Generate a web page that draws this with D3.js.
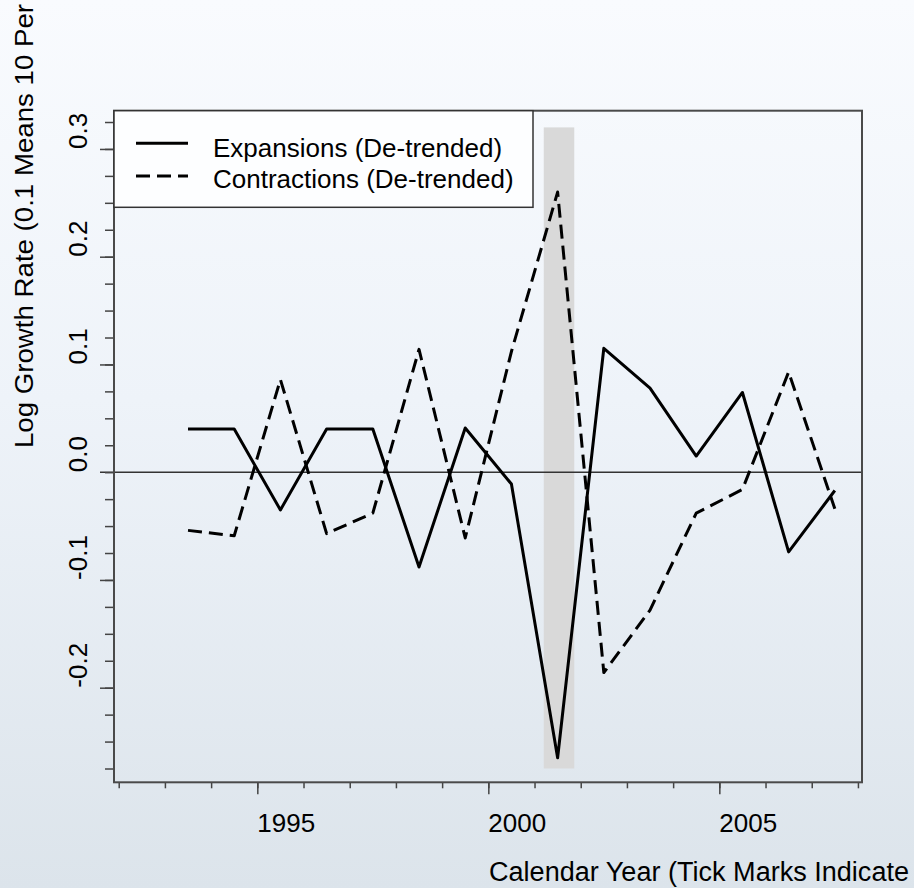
<!DOCTYPE html>
<html>
<head>
<meta charset="utf-8">
<script src="https://cdn.jsdelivr.net/npm/d3@7"></script>
<style>
  html, body { margin: 0; padding: 0; }
  body { width: 914px; height: 888px; overflow: hidden; }
  text { font-family: "Liberation Sans", Arial, sans-serif; fill: #000; }
</style>
</head>
<body>
<svg id="chart" width="914" height="888"></svg>
<script>
// Observation dates (mid-year) and the two de-trended growth series
const years = [1993.5, 1994.5, 1995.5, 1996.5, 1997.5, 1998.5, 1999.5, 2000.5,
               2001.5, 2002.5, 2003.5, 2004.5, 2005.5, 2006.5, 2007.5];
const expansions = [0.040, 0.040, -0.035, 0.040, 0.040, -0.088, 0.041, -0.011,
                    -0.265, 0.115, 0.078, 0.015, 0.074, -0.074, -0.017];
const contractions = [-0.054, -0.059, 0.086, -0.057, -0.038, 0.114, -0.061, 0.112,
                      0.260, -0.186, -0.128, -0.038, -0.016, 0.093, -0.034];

// Recession band (start, end) and its vertical extent
const recession = [2001.2, 2001.86];
const recessionRange = [-0.275, 0.32];

// Tick values and labels
const xMajorTicks = [1995, 2000, 2005];
const xMinorTicks = d3.range(1992, 2009, 1);
const yMajorTicks = [-0.2, -0.1, 0.0, 0.1, 0.2, 0.3];
const yMinorTicks = d3.range(-0.275, 0.3251, 0.025);
const yTickLabels = ["-0.2", "-0.1", "0.0", "0.1", "0.2", "0.3"];

const legendLabels = ["Expansions (De-trended)", "Contractions (De-trended)"];
const yTitle = "Log Growth Rate (0.1 Means 10 Per";
const xTitle = "Calendar Year (Tick Marks Indicate";

const svg = d3.select("#chart");

// Soft vertical background wash
const defs = svg.append("defs");
const grad = defs.append("linearGradient")
  .attr("id", "bg").attr("x1", 0).attr("y1", 0).attr("x2", 0).attr("y2", 1);
grad.append("stop").attr("offset", "0%").attr("stop-color", "#f9fbfe");
grad.append("stop").attr("offset", "45%").attr("stop-color", "#eef3f9");
grad.append("stop").attr("offset", "100%").attr("stop-color", "#dce4eb");
svg.append("rect").attr("width", 914).attr("height", 888).attr("fill", "url(#bg)");

const plot = { left: 114, right: 862, top: 110.7, bottom: 782.3 };

const x = d3.scaleLinear().domain([1991.898, 2008.088]).range([plot.left, plot.right]);
const y = d3.scaleLinear().domain([-0.2878, 0.3355]).range([plot.bottom, plot.top]);

// Recession shading
svg.append("rect")
  .attr("x", x(recession[0]))
  .attr("width", x(recession[1]) - x(recession[0]))
  .attr("y", y(recessionRange[1]))
  .attr("height", y(recessionRange[0]) - y(recessionRange[1]))
  .attr("fill", "#d9d9d9");

// Zero reference line (extends left as the 0.0 tick)
svg.append("line")
  .attr("x1", plot.left - 14).attr("x2", plot.right)
  .attr("y1", y(0)).attr("y2", y(0))
  .attr("stroke", "#333").attr("stroke-width", 1.5);

// Series lines
const line = (vals) => d3.line()
  .x((d, i) => x(years[i]))
  .y(d => y(d))(vals);

svg.append("path")
  .attr("d", line(expansions))
  .attr("fill", "none").attr("stroke", "#000")
  .attr("stroke-width", 3).attr("stroke-linejoin", "round");

svg.append("path")
  .attr("d", line(contractions))
  .attr("fill", "none").attr("stroke", "#000")
  .attr("stroke-width", 3).attr("stroke-linejoin", "round")
  .attr("stroke-dasharray", "14,7");

// Y axis ticks
const yMinorAxis = d3.axisLeft(y).tickValues(yMinorTicks).tickSize(9).tickFormat("");
const yMajorAxis = d3.axisLeft(y).tickValues(yMajorTicks.filter(v => v !== 0))
  .tickSize(14).tickFormat("");
[yMinorAxis, yMajorAxis].forEach(ax => {
  const g = svg.append("g").attr("transform", `translate(${plot.left},0)`).call(ax);
  g.select(".domain").remove();
  g.selectAll("line").attr("stroke", "#444").attr("stroke-width", 1.5);
});

// Y tick labels, rotated and starting at the tick
svg.append("g").selectAll("text")
  .data(yMajorTicks)
  .join("text")
  .attr("transform", d => `translate(87,${y(d)}) rotate(-90)`)
  .attr("text-anchor", "start")
  .attr("font-size", 26)
  .text((d, i) => yTickLabels[i]);

// X axis ticks
const xMinorAxis = d3.axisBottom(x).tickValues(xMinorTicks).tickSize(6).tickFormat("");
const xMajorAxis = d3.axisBottom(x).tickValues(xMajorTicks).tickSize(12).tickFormat("");
[xMinorAxis, xMajorAxis].forEach(ax => {
  const g = svg.append("g").attr("transform", `translate(0,${plot.bottom})`).call(ax);
  g.select(".domain").remove();
  g.selectAll("line").attr("stroke", "#444").attr("stroke-width", 1.5);
});

// X tick labels, starting at the tick
svg.append("g").selectAll("text")
  .data(xMajorTicks)
  .join("text")
  .attr("x", d => x(d))
  .attr("y", 832)
  .attr("text-anchor", "start")
  .attr("font-size", 26)
  .text(d => d);

// Plot frame
svg.append("rect")
  .attr("x", plot.left).attr("y", plot.top)
  .attr("width", plot.right - plot.left).attr("height", plot.bottom - plot.top)
  .attr("fill", "none").attr("stroke", "#4a4a4a").attr("stroke-width", 2);

// Legend
const legend = svg.append("g");
legend.append("rect")
  .attr("x", plot.left).attr("y", plot.top)
  .attr("width", 533 - plot.left).attr("height", 207.3 - plot.top)
  .attr("fill", "#fdfeff").attr("stroke", "#333").attr("stroke-width", 1.5);
const legendRows = [
  { label: legendLabels[0], dash: null, ly: 143.3, ty: 156.7 },
  { label: legendLabels[1], dash: "14,7", ly: 176, ty: 188.3 }
];
legendRows.forEach(r => {
  legend.append("line")
    .attr("x1", 136).attr("x2", 188).attr("y1", r.ly).attr("y2", r.ly)
    .attr("stroke", "#000").attr("stroke-width", 3)
    .attr("stroke-dasharray", r.dash);
  legend.append("text")
    .attr("x", 213).attr("y", r.ty)
    .attr("font-size", 26)
    .text(r.label);
});

// Axis titles
svg.append("text")
  .attr("transform", "translate(33,448) rotate(-90)")
  .attr("text-anchor", "start")
  .attr("font-size", 26)
  .attr("textLength", 444)
  .attr("lengthAdjust", "spacingAndGlyphs")
  .text(yTitle);

svg.append("text")
  .attr("x", 489).attr("y", 881)
  .attr("font-size", 27)
  .attr("textLength", 420)
  .attr("lengthAdjust", "spacingAndGlyphs")
  .text(xTitle);
</script>
</body>
</html>
